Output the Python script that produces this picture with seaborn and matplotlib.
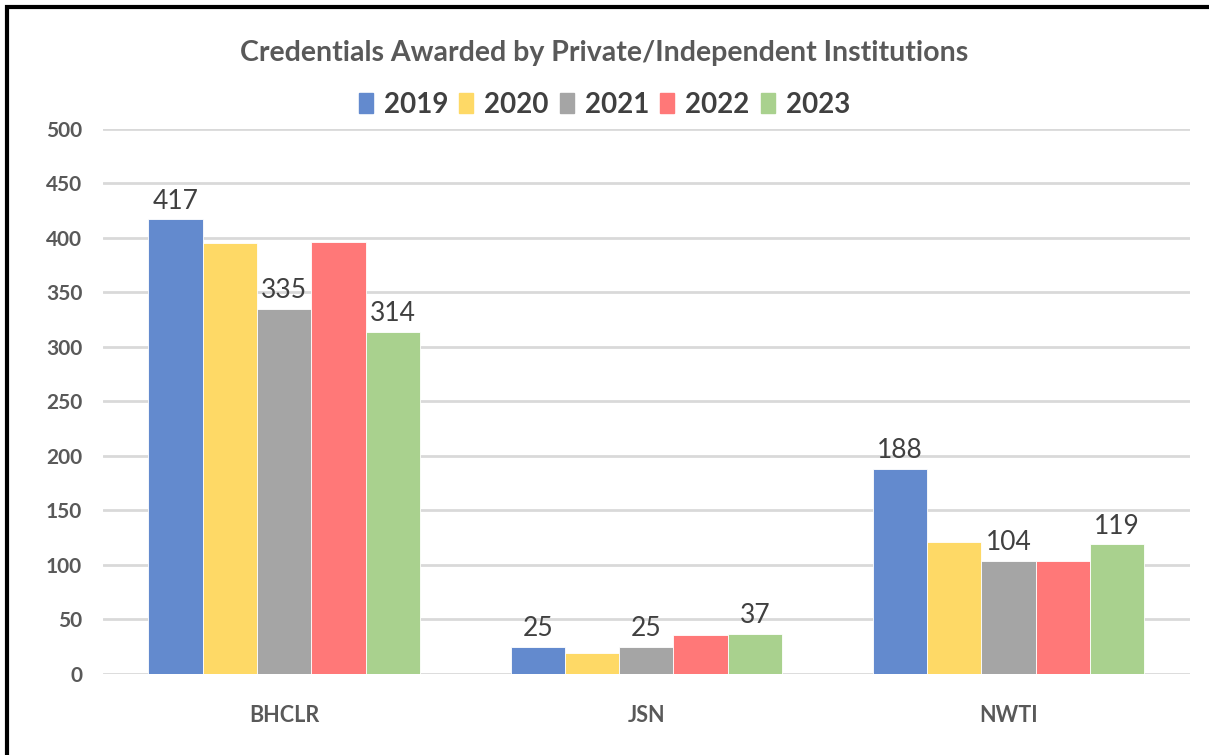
import matplotlib.pyplot as plt
import matplotlib.patches as mpatches
import seaborn as sns
import pandas as pd

institutions = ['BHCLR', 'JSN', 'NWTI']
years = ['2019', '2020', '2021', '2022', '2023']
vals_2019 = [417, 25, 188]
vals_2020 = [395, 19, 121]
vals_2021 = [335, 25, 104]
vals_2022 = [396, 36, 104]
vals_2023 = [314, 37, 119]
labelled_years = ['2019', '2021', '2023']

colors = ['#638ACE', '#FED966', '#A5A5A5', '#FF7878', '#A9D18E']

rows = []
for yr, vals in zip(years, [vals_2019, vals_2020, vals_2021, vals_2022, vals_2023]):
    for inst, v in zip(institutions, vals):
        rows.append({'Institution': inst, 'Year': yr, 'Credentials': v})
df = pd.DataFrame(rows)

sns.set_style('white')
plt.rcParams['font.family'] = ['Lato', 'DejaVu Sans']

fig = plt.figure(figsize=(12.09, 7.55), dpi=100)
ax = fig.add_axes([0.0852, 0.1073, 0.8988, 0.7219])

sns.barplot(data=df, x='Institution', y='Credentials', hue='Year', order=institutions,
            hue_order=years, palette=colors, width=0.75, saturation=1,
            edgecolor='white', linewidth=0.6, ax=ax, legend=False)

ax.set_ylim(0, 500)
ax.set_xlim(-0.5, 2.5)
ax.set_yticks(range(0, 501, 50))
ax.yaxis.grid(True, color='#D9D9D9', linewidth=2)
ax.set_axisbelow(True)
for s in ax.spines.values():
    s.set_visible(False)
ax.set_xlabel('')
ax.set_ylabel('')
ax.tick_params(axis='both', length=0, labelcolor='#595959')
ax.tick_params(axis='y', pad=15)
ax.tick_params(axis='x', pad=22)
for lab in ax.get_yticklabels():
    lab.set_fontweight('bold')
    lab.set_fontsize(15)
for lab in ax.get_xticklabels():
    lab.set_fontweight('bold')
    lab.set_fontsize(15.5)

for yr, cont in zip(years, ax.containers):
    if yr in labelled_years:
        ax.bar_label(cont, padding=4, fontsize=19, color='#404040')

fig.text(0.5, 0.930, 'Credentials Awarded by Private/Independent Institutions',
         ha='center', va='center', fontsize=20.5, fontweight='bold', color='#595959')

handles = [mpatches.Patch(color=c) for c in colors]
fig.legend(handles, years, loc='center', bbox_to_anchor=(0.5, 0.861), ncol=5,
           frameon=False, handlelength=0.5, handleheight=0.72, handletextpad=0.4,
           columnspacing=0.4, prop={'weight': 'bold', 'size': 20}, labelcolor='#404040')

fig.patches.append(mpatches.Rectangle((7 / 1209, -0.1), 1.2, 1 - 7 / 755 + 0.1,
                                      transform=fig.transFigure, fill=False,
                                      edgecolor='black', linewidth=3))

fig.savefig('out.png', dpi=100)
